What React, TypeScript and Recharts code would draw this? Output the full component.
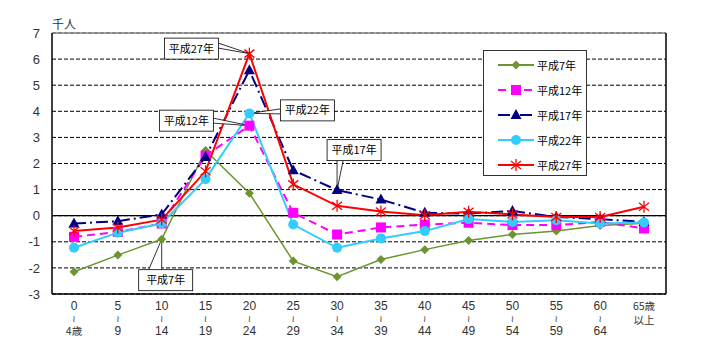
import React from "react";
import {
  LineChart,
  Line,
  XAxis,
  YAxis,
  CartesianGrid,
  ReferenceLine,
  ReferenceDot,
  Legend,
} from "recharts";

// age bands (x axis), labels are split into three rows like the original
const AGES = ["0-4", "5-9", "10-14", "15-19", "20-24", "25-29", "30-34", "35-39", "40-44", "45-49", "50-54", "55-59", "60-64", "65+"];
const TICK_TOP = ["0", "5", "10", "15", "20", "25", "30", "35", "40", "45", "50", "55", "60", "65歳"];
const TICK_BOTTOM = ["4歳", "9", "14", "19", "24", "29", "34", "39", "44", "49", "54", "59", "64", "以上"];

// 千人
const H7 = [-2.15, -1.51, -0.9, 2.5, 0.86, -1.74, -2.34, -1.68, -1.3, -0.95, -0.72, -0.59, -0.38, -0.29];
const H12 = [-0.81, -0.62, -0.3, 2.3, 3.45, 0.11, -0.72, -0.45, -0.34, -0.27, -0.36, -0.36, -0.24, -0.49];
const H17 = [-0.3, -0.21, 0.05, 2.25, 5.57, 1.74, 0.98, 0.62, 0.11, 0.08, 0.18, -0.05, -0.13, -0.24];
const H22 = [-1.23, -0.65, -0.3, 1.4, 3.92, -0.34, -1.23, -0.87, -0.59, -0.13, -0.24, -0.17, -0.3, -0.26];
const H27 = [-0.59, -0.45, -0.15, 1.7, 6.21, 1.2, 0.38, 0.16, 0.02, 0.15, 0.05, -0.05, -0.05, 0.34];

const Y_TICKS = [-3, -2, -1, 0, 1, 2, 3, 4, 5, 6, 7];

const data = AGES.map((age, i) => ({
  age,
  h7: H7[i],
  h12: H12[i],
  h17: H17[i],
  h22: H22[i],
  h27: H27[i],
}));

const FONT = '"Noto Sans CJK JP", "Noto Sans", sans-serif';

type Shape = "diamond" | "square" | "triangle" | "circle" | "star";

function Marker({ cx, cy, shape, color }: { cx: number; cy: number; shape: Shape; color: string }) {
  if (cx == null || cy == null) return null;
  switch (shape) {
    case "diamond":
      return <path d={`M${cx},${cy - 4.5}L${cx + 4.5},${cy}L${cx},${cy + 4.5}L${cx - 4.5},${cy}Z`} fill={color} />;
    case "square":
      return <rect x={cx - 5} y={cy - 5} width={10} height={10} fill={color} />;
    case "triangle":
      return <path d={`M${cx},${cy - 6}L${cx + 5.5},${cy + 4}L${cx - 5.5},${cy + 4}Z`} fill={color} />;
    case "circle":
      return <circle cx={cx} cy={cy} r={5} fill={color} />;
    case "star":
      return (
        <g stroke={color} strokeWidth={1.3}>
          <line x1={cx} y1={cy - 6} x2={cx} y2={cy + 6} />
          <line x1={cx - 5} y1={cy - 4} x2={cx + 5} y2={cy + 4} />
          <line x1={cx - 5} y1={cy + 4} x2={cx + 5} y2={cy - 4} />
        </g>
      );
  }
  return null;
}

const SERIES: { key: string; name: string; color: string; dash?: string; shape: Shape }[] = [
  { key: "h7", name: "平成7年", color: "#6B9530", shape: "diamond" },
  { key: "h12", name: "平成12年", color: "#FF00FF", dash: "8 5", shape: "square" },
  { key: "h17", name: "平成17年", color: "#000080", dash: "12 4 2 4", shape: "triangle" },
  { key: "h22", name: "平成22年", color: "#33CCFF", shape: "circle" },
  { key: "h27", name: "平成27年", color: "#FF0000", shape: "star" },
];

function AgeTick(props: any) {
  const { x, y, index } = props;
  const last = index === AGES.length - 1;
  return (
    <g fontFamily='"Liberation Sans", Arial, sans-serif' fontSize={12} fill="#333">
      <text x={x} y={y + 16} textAnchor="middle" fontFamily={last ? FONT : undefined} fontSize={last ? 10.5 : 12}>
        {TICK_TOP[index]}
      </text>
      {!last ? (
        <>
          <text x={x} y={y + 28} textAnchor="middle" fontSize={9} fontFamily="DejaVu Sans">≀</text>
          <text x={x} y={y + 41} textAnchor="middle" fontFamily={index === 0 ? FONT : undefined} fontSize={index === 0 ? 10.5 : 12}>
            {TICK_BOTTOM[index]}
          </text>
        </>
      ) : (
        <text x={x} y={y + 30} textAnchor="middle" fontFamily={FONT} fontSize={10.5}>{TICK_BOTTOM[index]}</text>
      )}
    </g>
  );
}

// callout box anchored at a data point; dx/dy = box centre offset from the point
function Callout(text: string, dx: number, dy: number, tail: [number, number, number, number]) {
  return (props: any) => {
    const { cx, cy } = props;
    if (cx == null) return null;
    const w = 54;
    const h = 21;
    const bx = cx + dx - w / 2;
    const by = cy + dy - h / 2;
    return (
      <g>
        <path
          d={`M${bx + tail[0]},${by + tail[1]}L${cx},${cy}L${bx + tail[2]},${by + tail[3]}`}
          fill="#fff"
          stroke="#000"
          strokeWidth={0.8}
        />
        <rect x={bx} y={by} width={w} height={h} fill="#fff" stroke="#000" strokeWidth={0.8} />
        <text x={bx + w / 2} y={by + 14.5} textAnchor="middle" fontFamily={FONT} fontSize={11} fill="#000">
          {text}
        </text>
      </g>
    );
  };
}

function LegendBox() {
  return (
    <div
      style={{
        width: 102,
        height: 122,
        border: "1px solid #333",
        background: "#fff",
        boxSizing: "content-box",
        paddingTop: 2,
      }}
    >
      {SERIES.map((s) => (
        <div key={s.key} style={{ display: "flex", alignItems: "center", height: 24.8 }}>
          <svg width={50} height={14} style={{ marginLeft: 2 }}>
            <line x1={12} y1={7} x2={48} y2={7} stroke={s.color} strokeWidth={2} strokeDasharray={s.dash} />
            <Marker cx={30} cy={7} shape={s.shape} color={s.color} />
          </svg>
          <span style={{ fontFamily: FONT, fontSize: 11, color: "#000", marginLeft: 1 }}>{s.name}</span>
        </div>
      ))}
    </div>
  );
}

export default function App() {
  return (
    <div style={{ position: "absolute", left: 0, top: 0, background: "#fff" }}>
      <LineChart width={707} height={359} data={data} margin={{ top: 33, right: 0, bottom: 0, left: 0 }}>
        <CartesianGrid vertical={false} stroke="#000" strokeDasharray="4 2" />
        <XAxis
          dataKey="age"
          padding={{ left: 22, right: 22 }}
          height={65}
          tickLine={false}
          tickSize={0}
          tickMargin={0}
          interval={0}
          axisLine={{ stroke: "#000", strokeWidth: 1.5 }}
          tick={<AgeTick />}
        />
        <YAxis
          domain={[-3, 7]}
          ticks={Y_TICKS}
          width={52}
          tickLine={false}
          tickMargin={6}
          interval={0}
          axisLine={{ stroke: "#000", strokeWidth: 1.5 }}
          tick={{ fontFamily: '"Liberation Sans", Arial, sans-serif', fontSize: 13, fill: "#333" }}
          label={{
            content: (p: any) => (
              <text x={p.viewBox.x + p.viewBox.width} y={p.viewBox.y - 4} fontFamily={FONT} fontSize={12} fill="#333">
                千人
              </text>
            ),
          }}
        />
        <YAxis
          yAxisId="frame"
          orientation="right"
          width={41}
          tick={false}
          tickLine={false}
          axisLine={{ stroke: "#000", strokeWidth: 1.5 }}
        />
        <ReferenceLine y={7} stroke="#888" strokeWidth={1.5} />
        <ReferenceLine y={0} stroke="#000" strokeWidth={1.2} />
        <Legend
          layout="horizontal"
          verticalAlign="middle"
          align="center"
          content={() => <LegendBox />}
          wrapperStyle={{ position: "absolute", left: 483, top: 50, width: 104, height: 124 }}
        />
        {SERIES.map((s) => (
          <Line
            key={s.key}
            dataKey={s.key}
            name={s.name}
            stroke={s.color}
            strokeWidth={s.key === "h7" ? 1.5 : 2}
            strokeDasharray={s.dash}
            isAnimationActive={false}
            dot={(p: any) => <Marker key={`${s.key}-${p.index}`} cx={p.cx} cy={p.cy} shape={s.shape} color={s.color} />}
            activeDot={false}
          />
        ))}
        <ReferenceDot x="20-24" y={6.21} r={0} shape={Callout("平成27年", -58, -5, [54, 5, 54, 10])} />
        <ReferenceDot x="20-24" y={3.45} r={0} shape={Callout("平成12年", -63, -5, [54, 8, 54, 13])} />
        <ReferenceDot x="20-24" y={3.92} r={0} shape={Callout("平成22年", 58, -3, [0, 9, 0, 14])} />
        <ReferenceDot x="30-34" y={0.98} r={0} shape={Callout("平成17年", 17, -40, [10, 21, 16, 21])} />
        <ReferenceDot x="10-14" y={-0.9} r={0} shape={Callout("平成7年", 4, 41, [10, 0, 23, 0])} />
      </LineChart>
    </div>
  );
}
